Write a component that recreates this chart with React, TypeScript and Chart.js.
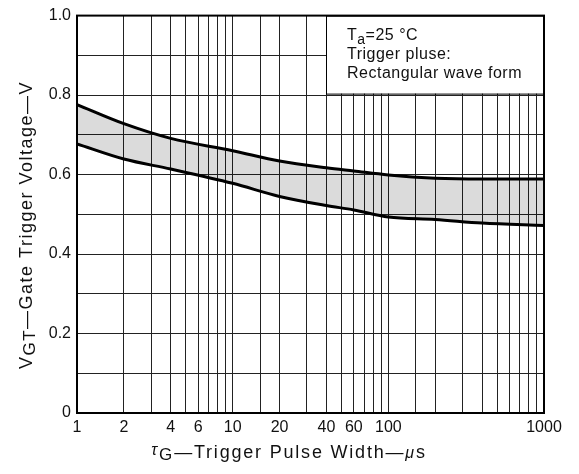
import React, { useEffect, useRef } from "react";
import { Chart, registerables } from "chart.js";

Chart.register(...registerables);

const pulseWidth = [1, 2, 4, 10, 20, 40, 60, 100, 200, 400, 1000];
const upperVoltage = [0.776, 0.728, 0.691, 0.66, 0.634, 0.617, 0.609, 0.599, 0.591, 0.589, 0.589];
const lowerVoltage = [0.677, 0.639, 0.614, 0.578, 0.545, 0.522, 0.511, 0.493, 0.487, 0.478, 0.472];
const xTickLabels = [1, 2, 4, 6, 10, 20, 40, 60, 100, 1000];
const yTickLabels = [0, 0.2, 0.4, 0.6, 0.8, 1.0];
const noteLines = ["Trigger pluse:", "Rectangular wave form"];

const FONT = "'Liberation Sans', Arial, sans-serif";

type Seg = { t: string; size: number; dy?: number; italic?: boolean };

function drawRich(ctx: CanvasRenderingContext2D, segs: Seg[], x: number, y: number, align: "left" | "center", spacing: number) {
  (ctx as any).letterSpacing = `${spacing}px`;
  let total = 0;
  const widths = segs.map((s) => {
    ctx.font = `${s.italic ? "italic " : ""}${s.size}px ${FONT}`;
    const w = ctx.measureText(s.t).width;
    total += w;
    return w;
  });
  let cx = align === "center" ? x - total / 2 : x;
  ctx.textAlign = "left";
  ctx.textBaseline = "alphabetic";
  segs.forEach((s, i) => {
    ctx.font = `${s.italic ? "italic " : ""}${s.size}px ${FONT}`;
    ctx.fillText(s.t, cx, y + (s.dy || 0));
    cx += widths[i];
  });
  (ctx as any).letterSpacing = "0px";
}

const annotationPlugin = {
  id: "annot",
  afterDraw(chart: any) {
    const ctx: CanvasRenderingContext2D = chart.ctx;
    const area = chart.chartArea;
    ctx.save();
    // note box
    const bw = 218;
    const bh = 78;
    const bx = area.right - bw;
    const by = area.top;
    ctx.fillStyle = "#fff";
    ctx.fillRect(bx, by, bw, bh);
    ctx.strokeStyle = "#000";
    ctx.lineWidth = 1;
    ctx.strokeRect(bx + 0.5, by + 0.5, bw - 1, bh);
    ctx.fillStyle = "#111";
    drawRich(ctx, [
      { t: "T", size: 16 },
      { t: "a", size: 14, dy: 4 },
      { t: "=25 °C", size: 16 },
    ], bx + 21, by + 24, "left", 0.5);
    noteLines.forEach((ln, i) => {
      drawRich(ctx, [{ t: ln, size: 16 }], bx + 21, by + 43 + i * 19, "left", 0.5);
    });
    // x title
    drawRich(ctx, [
      { t: "τ", size: 16, italic: true, dy: -3 },
      { t: "G", size: 17, dy: 2 },
      { t: "—Trigger Pulse Width—", size: 18 },
      { t: "μ", size: 16, italic: true },
      { t: "s", size: 18 },
    ], 289, 458, "center", 1.8);
    // y title
    ctx.translate(32, 225);
    ctx.rotate(-Math.PI / 2);
    drawRich(ctx, [
      { t: "V", size: 18 },
      { t: "GT", size: 17, dy: 3 },
      { t: "—Gate Trigger Voltage—V", size: 18 },
    ], 0, 0, "center", 1.5);
    ctx.restore();
    // frame
    ctx.save();
    ctx.strokeStyle = "#000";
    ctx.lineWidth = 2;
    ctx.strokeRect(area.left, area.top, area.right - area.left, area.bottom - area.top);
    ctx.restore();
  },
};

export default function App() {
  const ref = useRef<HTMLCanvasElement>(null);
  useEffect(() => {
    if (!ref.current) return;
    const upperPts = pulseWidth.map((x, i) => ({ x, y: upperVoltage[i] }));
    const lowerPts = pulseWidth.map((x, i) => ({ x, y: lowerVoltage[i] }));
    const chart = new Chart(ref.current, {
      type: "line",
      data: {
        datasets: [
          {
            data: upperPts,
            borderColor: "#000",
            borderWidth: 3,
            pointRadius: 0,
            cubicInterpolationMode: "monotone",
            fill: false,
          },
          {
            data: lowerPts,
            borderColor: "#000",
            borderWidth: 3,
            pointRadius: 0,
            cubicInterpolationMode: "monotone",
            fill: "-1",
            backgroundColor: "rgba(0,0,0,0.14)",
          },
        ],
      },
      options: {
        responsive: false,
        animation: false,
        layout: { padding: { top: 13, right: 35, left: 0, bottom: 0 } },
        plugins: { legend: { display: false }, tooltip: { enabled: false }, title: { display: false } },
        scales: {
          x: {
            type: "logarithmic",
            min: 1,
            max: 1000,
            afterFit: (s: any) => { s.height = 61; },
            border: { display: true, color: "#000", width: 2 },
            grid: { color: "#222", lineWidth: 1, drawTicks: false },
            ticks: {
              autoSkip: false,
              maxRotation: 0,
              padding: 5,
              color: "#111",
              font: { family: FONT, size: 16 },
              callback: (v: any) => (xTickLabels.includes(Number(v)) ? String(v) : ""),
            },
          },
          y: {
            type: "linear",
            min: 0,
            max: 1,
            afterFit: (s: any) => { s.width = 77; },
            border: { display: true, color: "#000", width: 2 },
            grid: { color: "#222", lineWidth: 1, drawTicks: false },
            ticks: {
              stepSize: 0.1,
              padding: 6,
              color: "#111",
              font: { family: FONT, size: 16 },
              callback: (v: any) => {
                const n = Math.round(Number(v) * 10) / 10;
                if (!yTickLabels.some((t) => Math.abs(t - n) < 1e-6)) return "";
                return n === 0 ? "0" : n.toFixed(1);
              },
            },
          },
        },
      },
      plugins: [annotationPlugin],
    } as any);
    return () => chart.destroy();
  }, []);
  return (
    <div style={{ position: "absolute", left: 0, top: 0, width: 579, height: 474, background: "#fff" }}>
      <canvas ref={ref} width={579} height={474} />
    </div>
  );
}
